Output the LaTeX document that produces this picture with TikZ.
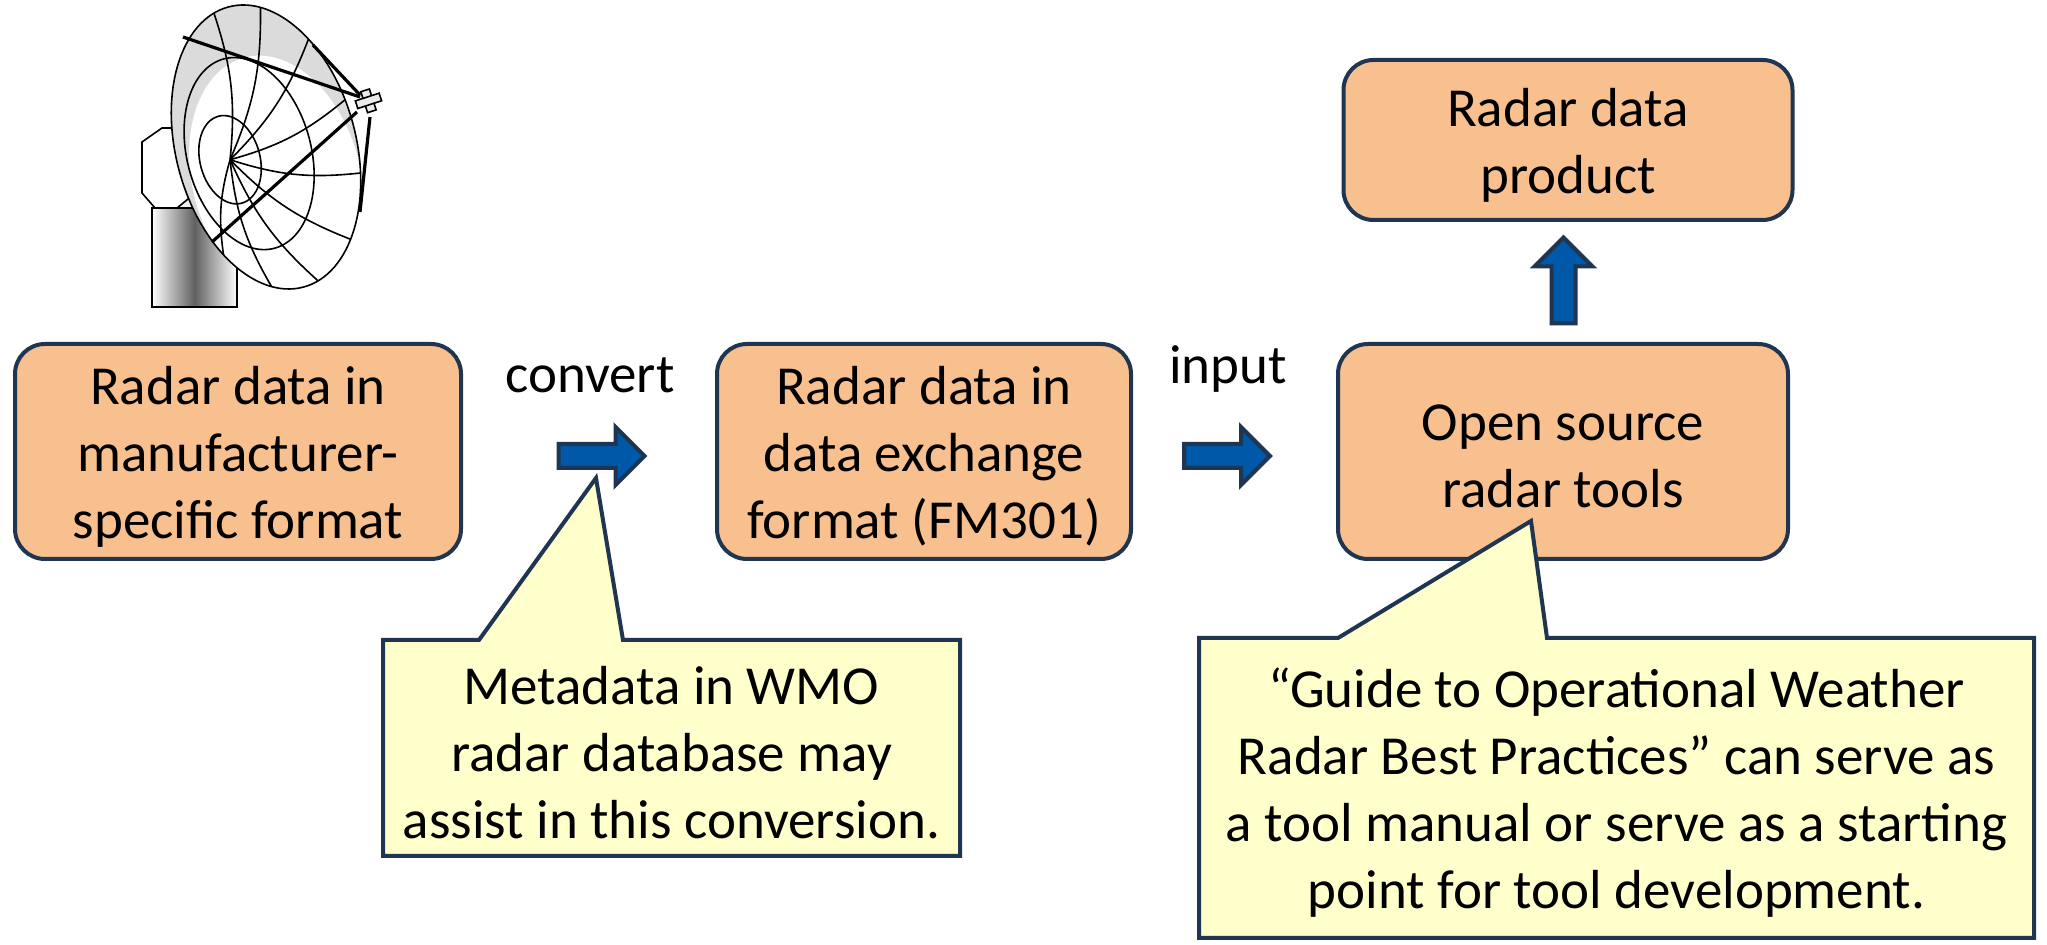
\documentclass[tikz,border=0pt]{standalone}
\usepackage{fontspec}
\setmainfont{Carlito}
\definecolor{boxfill}{HTML}{F8C08F}
\definecolor{navy}{HTML}{1F3550}
\definecolor{arrowblue}{HTML}{0058A8}
\definecolor{notefill}{HTML}{FFFFCC}
\begin{document}
\begin{tikzpicture}[x=.5pt, y=-.5pt, font=\fontsize{27.5}{33.5}\selectfont,
  stage/.style={draw=navy, line width=2pt, fill=boxfill, rounded corners=15pt,
    inner sep=0pt, minimum height=107.5pt},
  blockarrow/.style={draw=navy, line width=2pt, fill=arrowblue, line join=miter},
  notebox/.style={draw=navy, line width=2pt, fill=notefill, line join=miter},
  note/.style={align=center, inner sep=0pt, yshift=-2.5pt}]
\useasboundingbox (0,0) rectangle (2047,945);

% radar antenna
\begin{scope}[line width=.8pt]
\draw[fill=white] (162,128) -- (142,142) -- (142,193) -- (155,208) -- (205,208) -- (205,128) -- cycle;
\draw[left color=white, right color=white, middle color=black!62] (152,208) rectangle (237,307);
\draw[fill=black!6] (177,208) -- (193,195) -- (200,208) -- cycle;
\begin{scope}[shift={(266,147)}, rotate=15]
\fill[white] (0,0) ellipse [x radius=90, y radius=145];
\begin{scope}
\clip (0,0) ellipse [x radius=90, y radius=145];
\fill[black!14] (0,0) ellipse [x radius=90, y radius=145];
\fill[white] (2,33) ellipse [x radius=84, y radius=125];
\draw (-18,2) ellipse [x radius=62, y radius=98];
\foreach \t in {-100,-70,-40,-10,20,50,80,110,140}
  \draw (-38,3) to[bend right=12] ({90*cos(\t)},{145*sin(\t)});
\end{scope}
\draw (-38,3) ellipse [x radius=30, y radius=45];
\draw (0,0) ellipse [x radius=90, y radius=145];
\end{scope}
\draw[line width=1.6pt] (183,37) -- (360,97);
\draw[line width=1.6pt] (212,242) -- (357,112);
\draw[line width=1.6pt] (313,45) -- (360,95);
\draw[line width=1.6pt] (370,117) -- (360,212);
\draw[fill=black!8, rotate around={18:(368,101)}] (364,90) rectangle (373,112);
\draw[fill=black!8, rotate around={18:(368,101)}] (356,97) rectangle (381,105);
\end{scope}

% processing chain
\node[stage, minimum width=223pt] (raw) at (238,451.5) {};
\node[note] (rawtext) at (raw) {Radar data in\\manufacturer-\\specific format};
\node[stage, minimum width=207pt] (fm301) at (924,451.5) {};
\node[note] (fm301text) at (fm301) {Radar data in\\data exchange\\format (FM301)};
\node[stage, minimum width=225pt] (tools) at (1563,451.5) {};
\node[note] (toolstext) at (tools) {Open source\\radar tools};
\node[stage, minimum width=224.5pt, minimum height=80pt] (product) at (1568,140) {};
\node[note] (producttext) at (product) {Radar data\\product};

\node (convert) at (590,375) {convert};
\node (input) at (1228,369) {input};

\coordinate (convarrow) at (601.5,456);
\coordinate (inarrow) at (1227,456);
\coordinate (uparrow) at (1563.5,280.5);
\foreach \a/\r in {convarrow/0, inarrow/0, uparrow/90}
  \draw[blockarrow, shift={(\a)}, rotate=\r]
    (-43,-12) -- (14,-12) -- (14,-29) -- (43,0) -- (14,29) -- (14,12) -- (-43,12) -- cycle;

% callouts
\coordinate (metatip) at (596,478);
\coordinate (guidetip) at (1531,521);
\draw[notebox] (383,640) -- (479,640) -- (metatip) -- (623,640) -- (960,640)
  -- (960,856) -- (383,856) -- cycle;
\draw[notebox] (1199,638) -- (1338,638) -- (guidetip) -- (1547,638) -- (2034,638)
  -- (2034,938) -- (1199,938) -- cycle;
\node[note] (meta) at (671.5,748) {Metadata in WMO\\radar database may\\assist in this conversion.};
\node[note] (guide) at (1616.5,788) {“Guide to Operational Weather\\Radar Best Practices” can serve as\\a tool manual or serve as a starting\\point for tool development.};
\end{tikzpicture}
\end{document}
